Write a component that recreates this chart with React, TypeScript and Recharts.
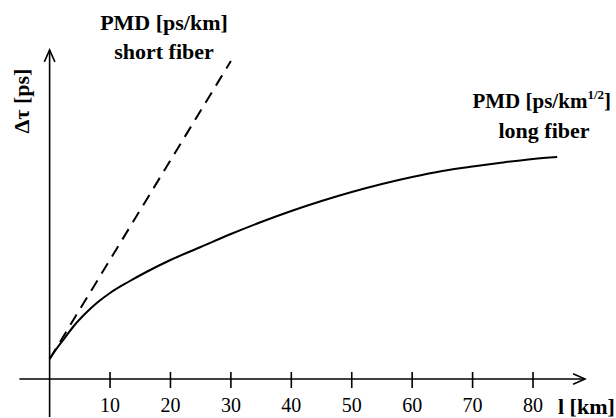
import React from "react";
import { LineChart, Line, XAxis, YAxis, ReferenceLine } from "recharts";

// fiber length [km] vs. differential group delay (arbitrary units, no y ticks)
const longLen = [0, 1, 2.5, 4, 6, 8, 10, 13, 16, 20, 25, 30, 35, 40, 45, 50, 55, 60, 65, 70, 75, 80, 84];
const longDelay = [20, 29, 41, 53, 66, 77, 86, 97, 107, 119, 132, 145, 157, 168, 178, 187, 195, 202, 208, 212.5, 216.5, 220, 222];

const shortLen = [0, 30];
const shortDelay = [20, 318];

const xTicks = [10, 20, 30, 40, 50, 60, 70, 80];

const longData = longLen.map((l, i) => ({ l, d: longDelay[i] }));
const shortData = shortLen.map((l, i) => ({ l, d: shortDelay[i] }));

const FONT = "'Liberation Serif', 'Times New Roman', serif";

// axis line with an open arrowhead at the second end point
const arrowLine = (props: any) => {
  const { x1, y1, x2, y2 } = props;
  const ang = Math.atan2(y2 - y1, x2 - x1);
  const len = 13;
  const spread = 0.42;
  const ax = x2 - len * Math.cos(ang - spread);
  const ay = y2 - len * Math.sin(ang - spread);
  const bx = x2 - len * Math.cos(ang + spread);
  const by = y2 - len * Math.sin(ang + spread);
  return (
    <g>
      <line x1={x1} y1={y1} x2={x2} y2={y2} stroke="#000" strokeWidth={1.6} />
      <polyline
        points={`${ax},${ay} ${x2},${y2} ${bx},${by}`}
        fill="none"
        stroke="#000"
        strokeWidth={1.6}
      />
    </g>
  );
};

const W = 616;
const H = 418;

export default function App() {
  return (
    <div style={{ position: "fixed", left: 0, top: 0, width: W, height: H, background: "#fff" }}>
      <LineChart
        width={W}
        height={H}
        margin={{ top: 50, right: 28.6, bottom: 1, left: 19.4 }}
      >
        <XAxis type="number" dataKey="l" domain={[-5, 89]} hide allowDataOverflow />
        <YAxis type="number" dataKey="d" domain={[-38, 329]} hide allowDataOverflow />

        <ReferenceLine
          segment={[{ x: -5, y: 0 }, { x: 88.6, y: 0 }]}
          shape={arrowLine}
          ifOverflow="visible"
        />
        <ReferenceLine
          segment={[{ x: 0, y: -38 }, { x: 0, y: 329 }]}
          shape={arrowLine}
          ifOverflow="visible"
        />
        {xTicks.map((t) => (
          <ReferenceLine
            key={t}
            segment={[{ x: t, y: 7 }, { x: t, y: -9 }]}
            stroke="#000"
            strokeWidth={1.6}
            ifOverflow="visible"
            label={{
              value: String(t),
              position: "bottom",
              offset: 10,
              fill: "#000",
              fontSize: 20,
              fontFamily: FONT,
            }}
          />
        ))}

        <Line
          data={shortData}
          dataKey="d"
          type="linear"
          stroke="#000"
          strokeWidth={2}
          strokeDasharray="12 8"
          dot={false}
          isAnimationActive={false}
        />
        <Line
          data={longData}
          dataKey="d"
          type="monotone"
          stroke="#000"
          strokeWidth={2}
          dot={false}
          isAnimationActive={false}
        />
      </LineChart>

      <svg
        width={W}
        height={H}
        style={{ position: "absolute", left: 0, top: 0, pointerEvents: "none" }}
        fontFamily={FONT}
        fontWeight="bold"
        fontSize={22}
        fill="#000"
      >
        <text x={164} y={30} textAnchor="middle">PMD [ps/km]</text>
        <text x={164} y={59} textAnchor="middle">short fiber</text>
        <text x={611} y={108} textAnchor="end" fontSize={21}>
          PMD [ps/km
          <tspan fontSize={13} dy={-9}>1/2</tspan>
          <tspan dy={9}>]</tspan>
        </text>
        <text x={544} y={138} textAnchor="middle">long fiber</text>
        <text x={558} y={414}>l [km]</text>
        <text transform="translate(29,101) rotate(-90)" textAnchor="middle">Δτ [ps]</text>
      </svg>
    </div>
  );
}
